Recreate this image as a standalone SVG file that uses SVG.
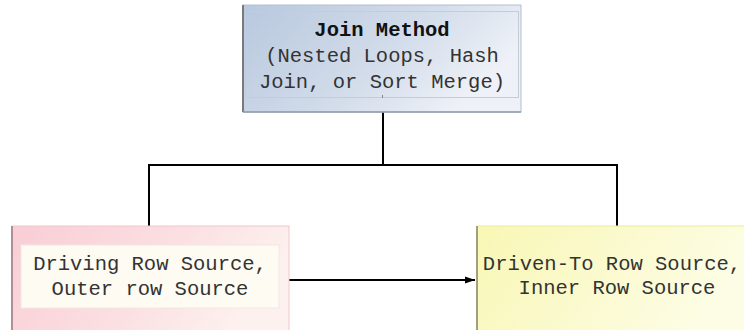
<svg xmlns="http://www.w3.org/2000/svg" width="744" height="330" viewBox="0 0 744 330">
<defs>
<linearGradient id="gBlue" x1="0" y1="0" x2="1" y2="0.4">
<stop offset="0" stop-color="#b8c8de"/>
<stop offset="0.6" stop-color="#d2dcea"/>
<stop offset="1" stop-color="#eef1f7"/>
</linearGradient>
<linearGradient id="gPink" x1="0" y1="0" x2="1" y2="0.3">
<stop offset="0" stop-color="#f9cdd5"/>
<stop offset="0.6" stop-color="#fbe0e3"/>
<stop offset="1" stop-color="#fdf1ef"/>
</linearGradient>
<linearGradient id="gYellow" x1="0" y1="0" x2="1" y2="0.3">
<stop offset="0" stop-color="#f9f7b4"/>
<stop offset="0.6" stop-color="#fbfad2"/>
<stop offset="1" stop-color="#fdfde6"/>
</linearGradient>
<marker id="arrow" viewBox="0 0 10 10" refX="10" refY="5" markerWidth="10" markerHeight="10" markerUnits="userSpaceOnUse" orient="auto">
<path d="M0,1.5 L10,5 L0,8.5 z" fill="#000"/>
</marker>
</defs>
<style>
.t{font-family:"Liberation Mono","Courier New",monospace;font-size:20.5px;fill:#333;text-anchor:middle}
.b{font-weight:bold;fill:#111}
.conn{stroke:#000;stroke-width:2;fill:none}
.edge{stroke:#7a7a7a;stroke-width:2}
</style>
<g id="connectors">
<polyline class="conn" points="383,112 383,165"/>
<polyline class="conn" points="149,226 149,165 617,165 617,226"/>
<line class="conn" x1="289" y1="280" x2="475" y2="280" marker-end="url(#arrow)"/>
</g>
<g id="join-method">
<rect x="243" y="5" width="278" height="107" fill="url(#gBlue)" stroke="#b4bfcf" stroke-width="1"/>
<line class="edge" x1="243" y1="5" x2="243" y2="112"/>
<line x1="243" y1="112" x2="521" y2="112" stroke="#8f9aa8" stroke-width="1.5"/>
<rect x="245.5" y="11.5" width="273" height="86" fill="none" stroke="#c4ccd8" stroke-width="1"/>
<line x1="382.5" y1="95" x2="382.5" y2="98" stroke="#888" stroke-width="1"/>
<text class="t b" x="382" y="36">Join Method</text>
<text class="t" x="382" y="62">(Nested Loops, Hash</text>
<text class="t" x="382" y="88">Join, or Sort Merge)</text>
</g>
<g id="driving-row-source">
<rect x="12" y="226" width="277" height="110" fill="url(#gPink)" stroke="#f1c6cc" stroke-width="1"/>
<line x1="12" y1="226" x2="12" y2="330" stroke="#b09095" stroke-width="2"/>
<rect x="21" y="245" width="258" height="63" fill="#fdfbf2" stroke="#f3e6e6" stroke-width="1"/>
<text class="t" x="150" y="270">Driving Row Source,</text>
<text class="t" x="150" y="295">Outer row Source</text>
</g>
<g id="driven-to-row-source">
<rect x="477" y="226" width="280" height="110" fill="url(#gYellow)" stroke="#ecec9c" stroke-width="1"/>
<line x1="477" y1="226" x2="477" y2="330" stroke="#a0a080" stroke-width="2"/>
<text class="t" x="612" y="270">Driven-To Row Source,</text>
<text class="t" x="617" y="294">Inner Row Source</text>
</g>
</svg>
